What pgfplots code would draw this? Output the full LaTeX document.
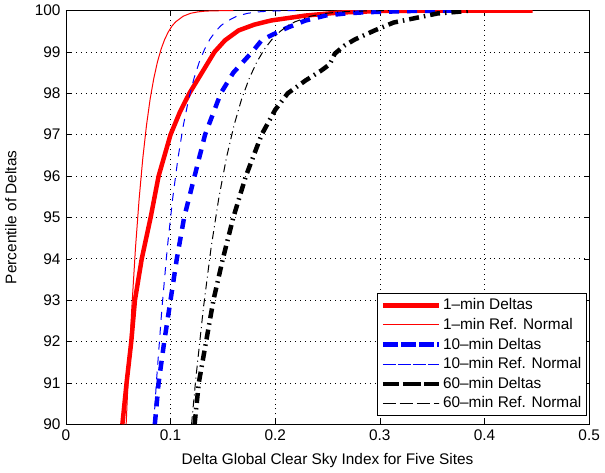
\documentclass[border=0pt]{standalone}
\usepackage{pgfplots}
\pgfplotsset{compat=1.18}
\usepackage{fontspec}
\setmainfont{Liberation Sans}
\begin{document}
\fontsize{15.5}{18}\selectfont
\begin{tikzpicture}
\begin{axis}[
  scale only axis,
  width=525bp, height=415bp,
  xmin=0, xmax=0.5, ymin=90, ymax=100,
  xtick={0,0.1,0.2,0.3,0.4,0.5},
  xticklabels={0,0.1,0.2,0.3,0.4,0.5},
  ytick={90,91,92,93,94,95,96,97,98,99,100},
  tick align=inside,
  major tick length=5bp,
  tick style={black, line width=0.5bp},
  axis line style={black, line width=0.6bp},
  grid=major,
  major grid style={black, line width=0.6bp, dash pattern=on 0.8bp off 4.2bp},
  /pgf/number format/assume math mode=true,
  ticklabel style={font=\fontsize{15.5}{18}\selectfont},
  label style={font=\fontsize{15.5}{18}\selectfont},
  xlabel={Delta Global Clear Sky Index for Five Sites},
  ylabel={Percentile of Deltas},
  xlabel style={yshift=-2bp},
  ylabel style={yshift=8bp},
  legend cell align=left,
  legend style={at={(rel axis cs:0.996,0.02)}, anchor=south east, draw=black, line width=0.6bp, fill=white,
    font=\fontsize{15.5}{18}\selectfont, row sep=2.2bp, inner sep=3.5bp},
  legend image code/.code={\path (0bp,0bp) -- (56bp,0bp); \draw[#1] (5bp,0bp) -- (56bp,0bp);},
]
% 1-min Deltas
\addplot[red, line width=4.5bp, line join=round] coordinates {
(0.054,90)(0.058,91)(0.0625,92)(0.066,93)(0.0725,94)(0.081,95)(0.0886,96)(0.100,97)(0.109,97.55)(0.118,98)(0.130,98.5)(0.142,99)(0.152,99.28)(0.165,99.52)(0.180,99.66)(0.196,99.76)(0.229,99.88)(0.26,99.95)(0.30,99.99)(0.35,100)(0.446,100)};
\addlegendentry{1–min Deltas}
% 1-min Ref Normal
\addplot[red, line width=1bp] coordinates {
(0.0576,90)(0.0595,91.09)(0.063,92.81)(0.0665,94.26)(0.070,95.45)(0.0735,96.43)(0.077,97.22)(0.0805,97.86)(0.084,98.36)(0.0875,98.76)(0.091,99.07)(0.0945,99.31)(0.098,99.49)(0.1015,99.63)(0.105,99.73)(0.112,99.863)(0.119,99.933)(0.126,99.968)(0.133,99.986)(0.140,99.994)(0.1575,99.9993)(0.16,100)};
\addlegendentry{1–min Ref. Normal}
% 10-min Deltas
\addplot[blue, line width=4.5bp, dash pattern=on 10bp off 8bp] coordinates {
(0.085,90)(0.0886,91)(0.094,92)(0.100,93)(0.106,94)(0.113,95)(0.123,96)(0.133,97)(0.148,98)(0.160,98.5)(0.178,99)(0.187,99.28)(0.196,99.4)(0.212,99.59)(0.229,99.76)(0.248,99.88)(0.267,99.93)(0.286,99.96)(0.33,99.99)(0.376,100)};
\addlegendentry{10–min Deltas}
% 10-min Ref Normal
\addplot[blue, line width=1bp, dash pattern=on 8bp off 7bp] coordinates {
(0.0839,90)(0.0867,91.09)(0.0918,92.81)(0.0969,94.26)(0.102,95.45)(0.1071,96.43)(0.1122,97.22)(0.1173,97.86)(0.1224,98.36)(0.1275,98.76)(0.1326,99.07)(0.1377,99.31)(0.1428,99.49)(0.1479,99.63)(0.153,99.73)(0.1632,99.863)(0.1734,99.933)(0.1836,99.968)(0.1938,99.986)(0.204,99.994)(0.22,99.999)};
\addlegendentry{10–min Ref. Normal}
% 60-min Deltas
\addplot[black, line width=4.5bp, dash pattern=on 10bp off 5bp on 1.5bp off 5bp] coordinates {
(0.123,90)(0.127,91)(0.134,92)(0.141,93)(0.150,94)(0.160,95)(0.172,96)(0.187,97)(0.200,97.6)(0.212,98.0)(0.229,98.31)(0.244,98.55)(0.252,98.7)(0.257,98.96)(0.266,99.15)(0.276,99.3)(0.295,99.52)(0.313,99.71)(0.336,99.83)(0.355,99.93)(0.379,99.98)(0.386,100)};
\addlegendentry{60–min Deltas}
% 60-min Ref Normal
\addplot[black, line width=1bp, dash pattern=on 8bp off 4bp on 1bp off 4bp] coordinates {
(0.1201,90)(0.1241,91.09)(0.1314,92.81)(0.1387,94.26)(0.146,95.45)(0.1533,96.43)(0.1606,97.22)(0.1679,97.86)(0.1752,98.36)(0.1825,98.76)(0.1898,99.07)(0.1971,99.31)(0.2044,99.49)(0.2117,99.63)(0.219,99.73)(0.2336,99.863)(0.2482,99.933)(0.2628,99.968)(0.2774,99.986)(0.292,99.994)(0.31,99.999)};
\addlegendentry{60–min Ref. Normal}
\end{axis}
\end{tikzpicture}
\end{document}
